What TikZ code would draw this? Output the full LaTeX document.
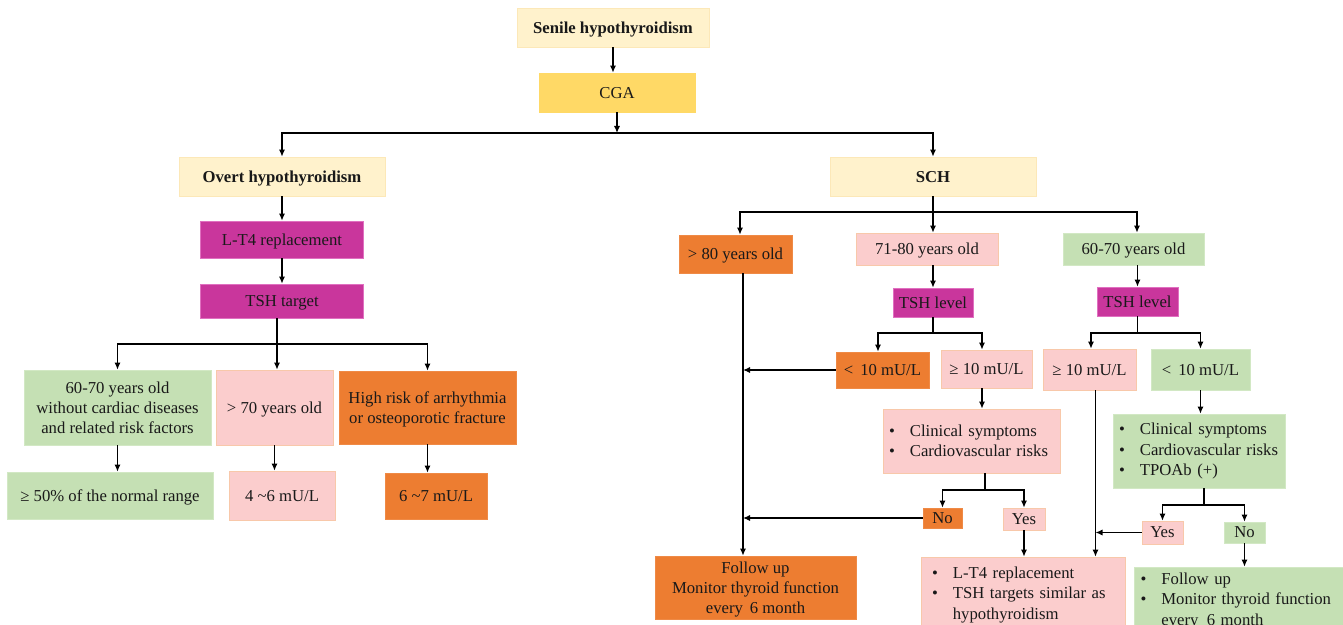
\documentclass[tikz,border=0pt]{standalone}
\usepackage{fontspec}
\setmainfont{Liberation Serif}
\usepackage{xcolor}
\usetikzlibrary{arrows.meta}

\definecolor{paleyel}{HTML}{FFF2CC}
\definecolor{paleyelline}{HTML}{FCE8B8}
\definecolor{gold}{HTML}{FFD966}
\definecolor{magenta}{HTML}{C9369C}
\definecolor{magentaline}{HTML}{E070C0}
\definecolor{sage}{HTML}{C5E0B4}
\definecolor{sageline}{HTML}{D2E8C4}
\definecolor{rose}{HTML}{FBCDCD}
\definecolor{roseline}{HTML}{F8C8AA}
\definecolor{tangerine}{HTML}{ED7D31}

\newcommand{\bitem}{\makebox[1.25em][l]{\textbullet}}

\begin{document}
\begin{tikzpicture}[
    x=0.02cm, y=-0.02cm,
    every node/.style={font=\fontsize{9.5}{11.4}\selectfont, inner sep=0pt, align=center, text=black!90, text depth=0pt},
    arr/.style={-{Latex[length=4pt,width=3.5pt]}, line width=0.7pt},
    link/.style={line width=0.7pt},
    sz/.style 2 args={minimum width=#1cm, minimum height=#2cm},
    yelbox/.style={fill=paleyel, draw=paleyelline},
    goldbox/.style={fill=gold, draw=gold},
    magbox/.style={fill=magenta, draw=magentaline},
    grnbox/.style={fill=sage, draw=sageline},
    pinkbox/.style={fill=rose, draw=roseline},
    orgbox/.style={fill=tangerine, draw=tangerine!90!white},
    listbox/.style={align=left, inner xsep=0.12cm, text depth={}},
  ]
  \useasboundingbox (0,0) rectangle (1343,625);
  \clip (0,0) rectangle (1343,625);

  % Top
  \node[yelbox, sz={3.84}{0.78}, font=\fontsize{9.5}{11.4}\selectfont\bfseries] (senile) at (613,27.5) {Senile hypothyroidism};
  \node[goldbox, sz={3.12}{0.78}] (cga) at (617,92.5) {CGA};
  \coordinate (split) at (617,133);

  % Overt hypothyroidism branch
  \node[yelbox, sz={4.12}{0.78}, font=\fontsize{9.5}{11.4}\selectfont\bfseries] (overt) at (282,176.5) {Overt hypothyroidism};
  \node[magbox, sz={3.26}{0.74}] (lt4a) at (282,239.5) {L-T4 replacement};
  \node[magbox, sz={3.26}{0.68}] (target) at (282,301) {TSH target};
  \coordinate (splitA) at (277,344);

  \node[grnbox, sz={3.74}{1.5}] (young) at (117.5,407.5) {60-70 years old\\without cardiac diseases\\and related risk factors};
  \node[pinkbox, sz={2.34}{1.5}] (seventy) at (274.5,407.5) {> 70 years old};
  \node[orgbox, sz={3.54}{1.46}] (highrisk) at (427.5,407.5) {High risk of arrhythmia\\or osteoporotic fracture};

  \node[grnbox, sz={4.12}{0.94}] (fifty) at (110,495.5) {≥ 50\% of the normal range};
  \node[pinkbox, sz={2.12}{0.98}] (foursix) at (282,495.5) {4 \textasciitilde6 mU/L};
  \node[orgbox, sz={2.04}{0.92}] (sixseven) at (436,496) {6 \textasciitilde7 mU/L};

  % SCH branch
  \node[yelbox, sz={4.12}{0.78}, font=\fontsize{9.5}{11.4}\selectfont\bfseries] (sch) at (933,176.5) {SCH};
  \coordinate (splitB) at (933,212);

  \node[orgbox, sz={2.26}{0.76}] (eighty) at (735.5,254) {> 80 years old};
  \node[pinkbox, sz={2.84}{0.64}] (seventyone) at (927,249) {71-80 years old};
  \node[grnbox, sz={2.82}{0.64}] (sixty) at (1133.5,249) {60-70 years old};

  \node[magbox, sz={1.6}{0.58}] (tshM) at (933,302.5) {TSH level};
  \node[magbox, sz={1.62}{0.58}] (tshR) at (1137.5,301.5) {TSH level};
  \coordinate (splitM) at (933,333);
  \coordinate (splitR) at (1137.5,333);

  \node[orgbox, sz={1.86}{0.72}] (lowM) at (882.5,370) {<\, 10 mU/L};
  \node[pinkbox, sz={1.82}{0.76}] (highM) at (986.5,369) {≥ 10 mU/L};
  \node[pinkbox, sz={1.86}{0.82}] (highR) at (1089.5,369.5) {≥ 10 mU/L};
  \node[grnbox, sz={1.98}{0.82}] (lowR) at (1200.5,369.5) {<\, 10 mU/L};

  \node[pinkbox, listbox, text width=3.30cm, minimum height=1.28cm] (clinM) at (971.5,441)
    {\bitem Clinical symptoms\\\bitem Cardiovascular risks};
  \node[grnbox, listbox, text width=3.20cm, minimum height=1.48cm] (clinR) at (1199,451)
    {\bitem Clinical symptoms\\\bitem Cardiovascular risks\\\bitem TPOAb (+)};
  \coordinate (splitC) at (985,490);
  \coordinate (splitD) at (1204,505);

  \node[orgbox, sz={0.78}{0.4}] (noM) at (942.5,518) {No};
  \node[pinkbox, sz={0.84}{0.44}] (yesM) at (1024,519) {Yes};
  \node[pinkbox, sz={0.82}{0.46}] (yesR) at (1162.5,532.5) {Yes};
  \node[grnbox, sz={0.82}{0.42}] (noR) at (1244.5,532.5) {No};

  \node[orgbox, sz={4.02}{1.26}] (follow) at (755.5,587.5) {Follow up\\Monitor thyroid function\\every\, 6 month};
  \node[pinkbox, listbox, text width=3.64cm, inner xsep=0.22cm, minimum height=1.52cm] (treat) at (1023,595)
    {\bitem L-T4 replacement\\\bitem TSH targets similar as\\\hspace*{1.25em}hypothyroidism};
  \node[grnbox, listbox, text width=4.06cm, minimum height=1.36cm] (followR) at (1242,601)
    {\bitem Follow up\\\bitem Monitor thyroid function\\\hspace*{1.25em}every\, 6 month};

  % Connectors, top
  \draw[arr] (senile.south) -- (senile.south |- cga.north);
  \draw[arr] (cga.south) -- (split);
  \draw[arr] (split) -| (overt.north);
  \draw[arr] (split) -| (sch.north);

  % Connectors, overt side
  \draw[arr] (overt) -- (lt4a);
  \draw[arr] (lt4a) -- (target);
  \draw[link] (target.south -| splitA) -- (splitA);
  \draw[arr] (splitA) -| (young.north);
  \draw[arr] (splitA) -- (splitA |- seventy.north);
  \draw[arr] (splitA) -| (highrisk.north);
  \draw[arr] (young.south) -- (young.south |- fifty.north);
  \draw[arr] (seventy.south) -- (seventy.south |- foursix.north);
  \draw[arr] (highrisk.south) -- (highrisk.south |- sixseven.north);

  % Connectors, SCH side
  \draw[link] (sch.south) -- (splitB);
  \draw[arr] (splitB) -| ([xshift=0.09cm]eighty.north);
  \draw[arr] (splitB) -- (splitB |- seventyone.north);
  \draw[arr] (splitB) -| ([xshift=0.07cm]sixty.north);
  \draw[arr] (seventyone.south -| tshM) -- (tshM.north);
  \draw[arr] (sixty.south -| tshR) -- (tshR.north);

  \draw[link] (tshM.south) -- (splitM);
  \draw[arr] (splitM) -| ([xshift=-0.09cm]lowM.north);
  \draw[arr] (splitM) -| ([xshift=-0.09cm]highM.north);
  \draw[link] (tshR.south) -- (splitR);
  \draw[arr] (splitR) -| ([xshift=0.03cm]highR.north);
  \draw[arr] (splitR) -| (lowR.north);

  % >80 years and no treatment
  \coordinate (down) at ([xshift=0.15cm]eighty.south);
  \draw[arr] (down) -- (down |- follow.north);
  \draw[arr] (lowM.west) -- (lowM.west -| down);
  \draw[arr] ([xshift=-0.09cm]highM.south) -- ([xshift=-0.09cm]highM.south |- clinM.north);
  \draw[link] (clinM.south -| splitC) -- (splitC);
  \draw[arr] (splitC) -| (noM.north);
  \draw[arr] (splitC) -| (yesM.north);
  \draw[arr] (noM.west) -- (noM.west -| down);
  \draw[arr] (yesM.south) -- (yesM.south |- treat.north);

  % 60-70 years
  \coordinate (down2) at ([xshift=0.12cm]highR.south);
  \draw[arr] (down2) -- (down2 |- treat.north);
  \draw[arr] (lowR.south) -- (lowR.south |- clinR.north);
  \draw[link] (clinR.south -| splitD) -- (splitD);
  \draw[arr] (splitD) -| (yesR.north);
  \draw[arr] (splitD) -| (noR.north);
  \draw[arr] (yesR.west) -- (yesR.west -| down2);
  \draw[arr] (noR.south) -- (noR.south |- followR.north);
\end{tikzpicture}
\end{document}
